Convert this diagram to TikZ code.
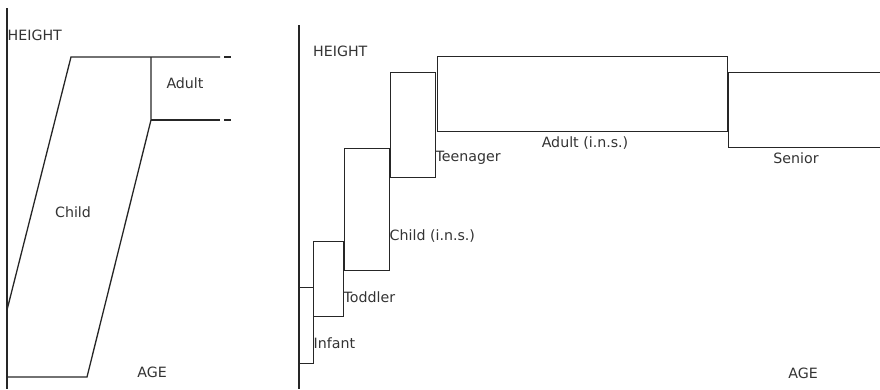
\documentclass[tikz,border=0pt]{standalone}
\usepackage{fontspec}
\setmainfont{DejaVu Sans}
\begin{document}
\begin{tikzpicture}[x=1pt,y=-1pt,
  ln/.style={line width=1.3pt, draw=black!85},
  box/.style={ln, rectangle, inner sep=0pt, anchor=north west},
  lab/.style={inner sep=0pt, text=black!80, font=\fontsize{14.2}{16}\selectfont}]
\useasboundingbox (0,0) rectangle (880,389);
% ---------- left panel ----------
\coordinate (lax) at (7,8);
\coordinate (lo) at (7,389);
\draw[ln] (lax) -- (lo);
\node[lab, anchor=west] (lh) at (7.5,35) {HEIGHT};
\coordinate (c1) at (7,377);
\coordinate (c2) at (87,377);
\coordinate (c3) at (151,120);
\coordinate (c4) at (151,57);
\coordinate (c5) at (71,57);
\coordinate (c6) at (7,310);
\draw[ln] (c1) -- (c2) -- (c3) -- (c4);
\draw[ln] (c6) -- (c5) -- (220,57);
\draw[ln] (c3) -- (220,120);
\draw[ln] (224,57) -- (231,57);
\draw[ln] (224,120) -- (231,120);
\node[lab] (adultL) at (185,83) {Adult};
\node[lab] (childL) at (73,212) {Child};
\node[lab] (ageL) at (152,372) {AGE};
% ---------- right panel ----------
\draw[ln] (299,25) -- (299,389);
\node[lab, anchor=west] (rh) at (313,51) {HEIGHT};
\node[box, minimum width=14pt, minimum height=76pt] (infant) at (299,287) {};
\node[box, minimum width=30pt, minimum height=75pt] (toddler) at (313,241) {};
\node[box, minimum width=45pt, minimum height=122pt] (child) at (344,148) {};
\node[box, minimum width=45pt, minimum height=105pt] (teen) at (390,72) {};
\node[box, minimum width=290pt, minimum height=75pt] (adult) at (437,56) {};
\node[box, minimum width=154pt, minimum height=75pt] (senior) at (728,72) {};
\node[lab, anchor=west] (infantL) at (313.5,343) {Infant};
\node[lab, anchor=west] (toddlerL) at (343.5,297) {Toddler};
\node[lab, anchor=west] (childR) at (389.5,236) {Child (i.n.s.)};
\node[lab, anchor=west] (teenL) at (435.5,158) {Teenager};
\node[lab] (adultR) at (585,143) {Adult (i.n.s.)};
\node[lab] (seniorL) at (796,158) {Senior};
\node[lab] (ageR) at (803,373) {AGE};
\end{tikzpicture}
\end{document}
